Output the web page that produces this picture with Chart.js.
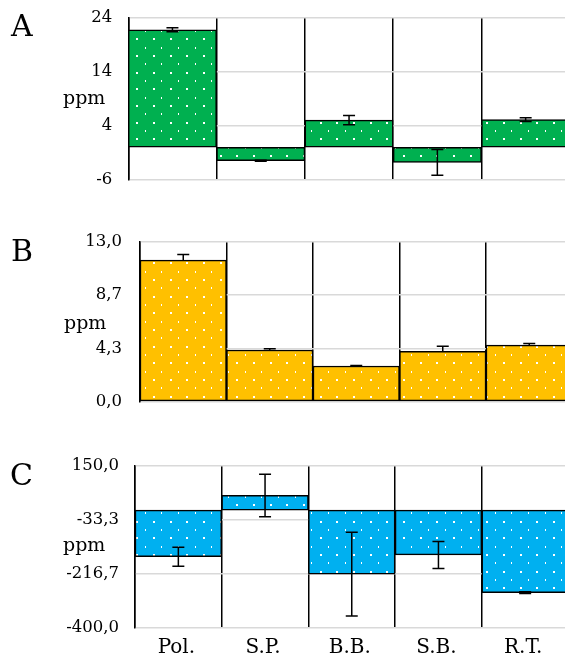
<!DOCTYPE html>
<html>
<head>
<meta charset="utf-8">
<script src="https://cdn.jsdelivr.net/npm/chart.js@4/dist/chart.umd.min.js"></script>
<style>
    html, body { margin: 0; padding: 0; background: #fff; }
    #page { position: relative; width: 565px; height: 659px; overflow: hidden; font-family: 'DejaVu Serif', serif; color: #000; }
    #page canvas { position: absolute; left: 0; }
    .tag { position: absolute; font-size: 30px; line-height: 1; }
    .unit { position: absolute; font-size: 19px; line-height: 1; }
</style>
</head>
<body>
<div id="page">
    <canvas id="chartA" width="572" height="188" style="top:2px"></canvas>
    <canvas id="chartB" width="575" height="190" style="top:226px"></canvas>
    <canvas id="chartC" width="572" height="208" style="top:451px"></canvas>
    <div class="tag" style="left:11px;top:11px">A</div>
    <div class="tag" style="left:11px;top:236px">B</div>
    <div class="tag" style="left:10px;top:460px">C</div>
    <div class="unit" style="left:63px;top:88px">ppm</div>
    <div class="unit" style="left:64px;top:313px">ppm</div>
    <div class="unit" style="left:63px;top:535px">ppm</div>
</div>
<script>
const categories = ['Pol.', 'S.P.', 'B.B.', 'S.B.', 'R.T.'];

const valuesA = [21.7, -2.5, 5.0, -2.8, 5.1];
const errorsA = [0.35, 0.1, 0.85, 2.4, 0.35];
const ticksA = [-6, 4, 14, 24];

const valuesB = [11.5, 4.2, 2.9, 4.1, 4.6];
const errorsB = [0.47, 0.1, 0.05, 0.41, 0.12];
const ticksB = [0, 13 / 3, 26 / 3, 13];

const valuesC = [-158, 50, -217, -152, -280];
const errorsC = [32, 72, 142, 46, 3];
const ticksC = [-400, -400 + 550 / 3, -400 + 1100 / 3, 150];

Chart.defaults.font.family = "'DejaVu Serif', serif";
Chart.defaults.color = '#000';

// white dot texture on top of the bar colour
const dotPattern = (color) => {
    const tile = document.createElement('canvas');
    tile.width = 50;
    tile.height = 50;
    const c = tile.getContext('2d');
    c.fillStyle = color;
    c.fillRect(0, 0, 50, 50);
    c.fillStyle = '#fff';
    for (let r = 0; r < 6; r++) {
        for (let k = 0; k < 3; k++) {
            const x = Math.round(k * 50 / 3 + (r % 2 ? 50 / 6 : 0) + 3);
            const y = Math.round(r * 50 / 6 + 3);
            if (r % 2) {
                c.fillRect(x, y, 1, 2);
            } else {
                c.fillRect(x, y, 2, 2);
            }
        }
    }
    return c.createPattern(tile, 'repeat');
};

const errorBars = {
    id: 'errorBars',
    afterDatasetsDraw(chart) {
        const ds = chart.data.datasets[0];
        const meta = chart.getDatasetMeta(0);
        const yScale = chart.scales.y;
        const { ctx } = chart;
        ctx.save();
        ctx.strokeStyle = '#000';
        ctx.lineWidth = 1.5;
        meta.data.forEach((bar, i) => {
            const v = ds.data[i];
            const err = ds.errors[i];
            const top = yScale.getPixelForValue(v + err);
            const bottom = yScale.getPixelForValue(ds.plusOnly ? v : v - err);
            const x = bar.x;
            ctx.beginPath();
            ctx.moveTo(x, top);
            ctx.lineTo(x, bottom);
            ctx.moveTo(x - 6, top);
            ctx.lineTo(x + 6, top);
            if (!ds.plusOnly) {
                ctx.moveTo(x - 6, bottom);
                ctx.lineTo(x + 6, bottom);
            }
            ctx.stroke();
        });
        ctx.restore();
    }
};

const fmtComma = (v) => v.toFixed(1).replace('.', ',');

const makePanel = (id, spec) => {
    new Chart(document.getElementById(id), {
        type: 'bar',
        data: {
            labels: categories,
            datasets: [{
                data: spec.values,
                errors: spec.errors,
                plusOnly: spec.plusOnly,
                backgroundColor: dotPattern(spec.color),
                borderColor: '#000',
                borderWidth: 1.5,
                borderSkipped: false,
                barPercentage: 1,
                categoryPercentage: 1
            }]
        },
        options: {
            responsive: false,
            animation: false,
            layout: { padding: spec.padding },
            plugins: {
                legend: { display: false },
                tooltip: { enabled: false }
            },
            scales: {
                x: {
                    grid: { color: '#000', lineWidth: 1.5, drawTicks: false, offset: true },
                    border: { display: false },
                    ticks: {
                        display: spec.showLabels,
                        font: { size: 20 },
                        padding: 8,
                        labelOffset: -2,
                        maxRotation: 0
                    },
                    afterFit(scale) {
                        scale.height = spec.xHeight;
                    }
                },
                y: {
                    min: spec.ticks[0],
                    max: spec.ticks[spec.ticks.length - 1],
                    grid: { color: '#d9d9d9', lineWidth: 1.5, drawTicks: false },
                    border: { color: '#000', width: 1.5 },
                    ticks: {
                        font: { size: 16.5 },
                        padding: spec.tickPad,
                        callback: spec.format
                    },
                    afterBuildTicks(scale) {
                        scale.ticks = spec.ticks.map((value) => ({ value }));
                    },
                    afterFit(scale) {
                        // plot edges come from layout.padding alone
                        scale.width = spec.left;
                        scale.paddingTop = 0;
                        scale.paddingBottom = 0;
                    }
                }
            }
        },
        plugins: [errorBars]
    });
};

makePanel('chartA', {
    values: valuesA,
    errors: errorsA,
    plusOnly: false,
    color: '#00b050',
    ticks: ticksA,
    format: (v) => String(Math.round(v)),
    left: 128.3,
    tickPad: 16,
    xHeight: 0,
    showLabels: false,
    padding: { top: 15.3, bottom: 10.3, left: 0, right: 2.2 }
});

makePanel('chartB', {
    values: valuesB,
    errors: errorsB,
    plusOnly: true,
    color: '#ffc000',
    ticks: ticksB,
    format: fmtComma,
    left: 140,
    tickPad: 18,
    xHeight: 0,
    showLabels: false,
    padding: { top: 15.7, bottom: 14.3, left: 0, right: 2.5 }
});

makePanel('chartC', {
    values: valuesC,
    errors: errorsC,
    plusOnly: false,
    color: '#00b0f0',
    ticks: ticksC,
    format: fmtComma,
    left: 135,
    tickPad: 16,
    xHeight: 31,
    showLabels: true,
    padding: { top: 15, bottom: 0, left: 0, right: 3.5 }
});
</script>
</body>
</html>
